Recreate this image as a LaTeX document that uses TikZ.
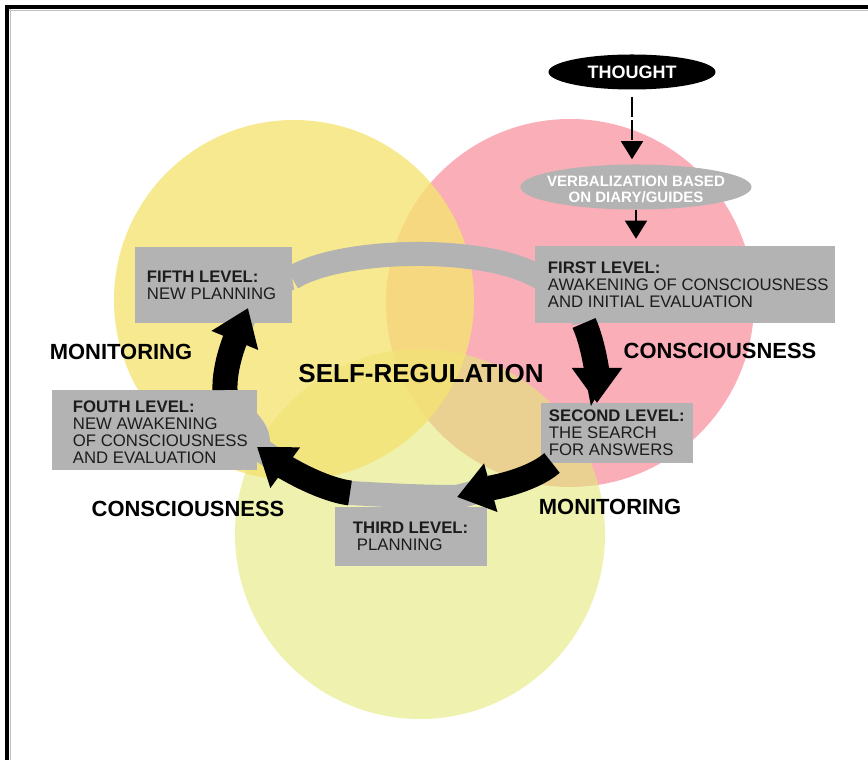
\documentclass[tikz,border=0pt]{standalone}
\usepackage{fontspec}
\setmainfont{Liberation Sans}
\usetikzlibrary{arrows.meta,shapes.geometric}

\definecolor{boxgray}{RGB}{179,179,179}
\definecolor{pinkc}{RGB}{249,174,184}
\definecolor{yellowc}{RGB}{245,227,115}
\definecolor{limec}{RGB}{227,233,120}
\definecolor{inkc}{RGB}{28,28,28}

\begin{document}
\begin{tikzpicture}[x=0.025cm, y=-0.025cm]
\tikzset{lvlbox/.style={fill=boxgray, inner sep=0pt},
         lvltxt/.style={anchor=west, align=left, inner sep=0pt, text=inkc, font=\fontsize{11.9}{12.1}\selectfont},
         sidelabel/.style={inner sep=0pt, font=\fontsize{15.6}{18}\selectfont\bfseries},
         bigarrow/.style={line width=0.625cm, -{Triangle[width=1.2cm, length=0.875cm]}},
         thinarrow/.style={line width=1.1pt, -{Triangle[width=0.55cm, length=0.45cm]}},
         ringband/.style={line width=0.6cm, draw=boxgray, line join=round}}
\useasboundingbox (0,0) rectangle (868,760);
\draw[line width=2.8pt] (5,7) -- (868,7);
\draw[line width=2.8pt] (7,5) -- (7,760);
\draw[gray!50, line width=0.6pt] (9,10.5) -- (868,10.5);
\draw[gray!50, line width=0.6pt] (10.5,9) -- (10.5,760);

\fill[pinkc] (570,303) circle [radius=184];
\fill[limec, fill opacity=0.6] (420,534) circle [radius=185];
\fill[yellowc, fill opacity=0.8] (294,300) circle [radius=180];

\coordinate (a) at (584,323);
\coordinate (b) at (597,403);
\coordinate (c) at (552,463);
\coordinate (d) at (457,497);
\coordinate (e) at (350,493);
\coordinate (f) at (257,447);
\coordinate (g) at (225,390);
\coordinate (h) at (248,308);

\draw[ringband] (292,278) .. controls (340,248) and (480,245) .. (535,275)
  .. controls (565,288) and (582,305) .. (a);
\draw[ringband] (c) .. controls (530,482) and (486,489) .. (d)
  .. controls (420,497) and (385,495) .. (e)
  .. controls (320,489) and (283,466) .. (f)
  .. controls (264,425) and (228,410) .. (g)
  .. controls (224,365) and (236.6,336) .. (h)
  .. controls (256,290) and (270,282) .. (292,278);

\node[lvlbox, minimum width=7.5cm, minimum height=1.925cm] (first) at (685,284.5) {};
\node[lvlbox, minimum width=3.8cm, minimum height=1.5cm] (second) at (617,433) {};
\node[lvlbox, minimum width=3.8cm, minimum height=1.475cm] (third) at (411,536.5) {};
\node[lvlbox, minimum width=5.125cm, minimum height=2cm] (fourth) at (154.5,430) {};
\node[lvlbox, minimum width=3.925cm, minimum height=1.9cm] (fifth) at (213.5,285) {};

\node[lvltxt] (firsttxt) at ([xshift=0.325cm]first.west) {\textbf{FIRST LEVEL:}\\AWAKENING OF CONSCIOUSNESS\\AND INITIAL EVALUATION};
\node[lvltxt] (secondtxt) at ([xshift=0.2cm]second.west) {\textbf{SECOND LEVEL:}\\THE SEARCH\\FOR ANSWERS};
\node[lvltxt] (thirdtxt) at ([xshift=0.45cm]third.west) {\textbf{THIRD LEVEL:}\\\hspace*{0.1cm}PLANNING};
\node[lvltxt] (fourthtxt) at ([xshift=0.525cm, yshift=-0.06cm]fourth.west) {\textbf{FOUTH LEVEL:}\\NEW AWAKENING\\OF CONSCIOUSNESS\\AND EVALUATION};
\node[lvltxt] (fifthtxt) at ([xshift=0.3cm]fifth.west) {\textbf{FIFTH LEVEL:}\\NEW PLANNING};

\draw[bigarrow] (a) .. controls (594,345) and (597,375) .. (b);
\draw[bigarrow] (c) .. controls (530,482) and (486,489) .. (d);
\draw[bigarrow] (e) .. controls (320,489) and (283,466) .. (f);
\draw[bigarrow] (g) .. controls (224,365) and (236.6,336) .. (h);

\node[ellipse, fill=black, minimum width=4.175cm, minimum height=0.875cm, inner sep=0pt,
      text=white, font=\fontsize{12.8}{14}\selectfont\bfseries] (thought) at (632,72) {THOUGHT};
\node[ellipse, fill=boxgray, minimum width=5.775cm, minimum height=1.125cm, inner sep=0pt] (verbal) at (636,187) {};
\node[align=center, inner sep=0pt, text=white, font=\fontsize{10.7}{11}\selectfont\bfseries] (verbaltxt) at (636,189.5) {VERBALIZATION BASED\\ON DIARY/GUIDES};
\draw[thinarrow, dash pattern=on 0.5cm off 0.08cm, shorten <=0.175cm, shorten >=0.125cm] (thought.south) -- (verbal.north -| thought.south);
\draw[thinarrow, shorten >=0.175cm] (verbal.south) -- (verbal.south |- first.north);

\node[sidelabel] (monleft) at (121,352) {MONITORING};
\node[sidelabel] (conright) at (720,351) {CONSCIOUSNESS};
\node[sidelabel, font=\fontsize{18.5}{22}\selectfont\bfseries] (selfreg) at (421,374) {SELF-REGULATION};
\node[sidelabel] (conleft) at (188,509) {CONSCIOUSNESS};
\node[sidelabel] (monright) at (610,507) {MONITORING};
\end{tikzpicture}
\end{document}
